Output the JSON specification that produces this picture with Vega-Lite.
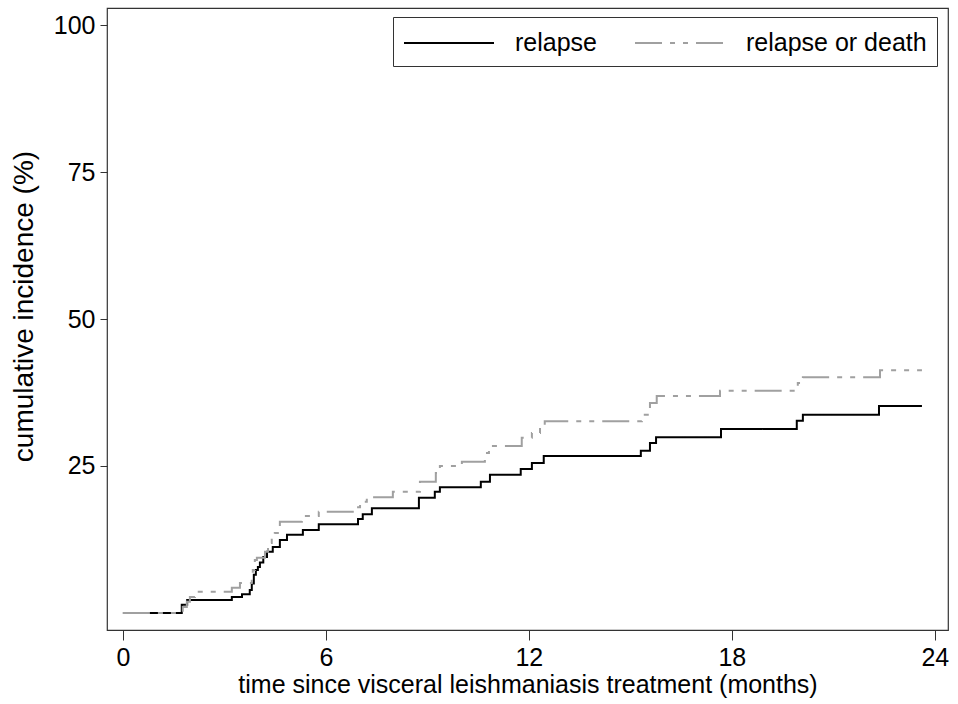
{
  "$schema": "https://vega.github.io/schema/vega-lite/v6.json",
  "autosize": {"type": "none"},
  "padding": {"left": 107, "top": 8, "right": 10, "bottom": 74},
  "width": 841,
  "height": 622,
  "background": "white",
  "config": {
    "view": {"stroke": "#333333", "strokeWidth": 1.2},
    "font": "Liberation Sans"
  },
  "data": {
    "values": [
      {"t": 0, "v": 0, "series": "relapse"},
      {"t": 1.74, "v": 1.4, "series": "relapse"},
      {"t": 1.9, "v": 2.2, "series": "relapse"},
      {"t": 3.22, "v": 2.7, "series": "relapse"},
      {"t": 3.52, "v": 3.2, "series": "relapse"},
      {"t": 3.75, "v": 3.9, "series": "relapse"},
      {"t": 3.81, "v": 5.0, "series": "relapse"},
      {"t": 3.87, "v": 6.5, "series": "relapse"},
      {"t": 3.93, "v": 7.3, "series": "relapse"},
      {"t": 3.99, "v": 7.8, "series": "relapse"},
      {"t": 4.05, "v": 8.6, "series": "relapse"},
      {"t": 4.15, "v": 9.5, "series": "relapse"},
      {"t": 4.26, "v": 10.4, "series": "relapse"},
      {"t": 4.43, "v": 11.2, "series": "relapse"},
      {"t": 4.64, "v": 12.4, "series": "relapse"},
      {"t": 4.85, "v": 13.3, "series": "relapse"},
      {"t": 5.32, "v": 14.1, "series": "relapse"},
      {"t": 5.79, "v": 15.1, "series": "relapse"},
      {"t": 6.95, "v": 16.0, "series": "relapse"},
      {"t": 7.09, "v": 16.8, "series": "relapse"},
      {"t": 7.36, "v": 17.8, "series": "relapse"},
      {"t": 8.75, "v": 19.6, "series": "relapse"},
      {"t": 9.22, "v": 20.6, "series": "relapse"},
      {"t": 9.37, "v": 21.4, "series": "relapse"},
      {"t": 10.58, "v": 22.3, "series": "relapse"},
      {"t": 10.85, "v": 23.5, "series": "relapse"},
      {"t": 11.76, "v": 24.5, "series": "relapse"},
      {"t": 12.09, "v": 25.5, "series": "relapse"},
      {"t": 12.44, "v": 26.7, "series": "relapse"},
      {"t": 15.31, "v": 27.6, "series": "relapse"},
      {"t": 15.58, "v": 28.9, "series": "relapse"},
      {"t": 15.76, "v": 29.9, "series": "relapse"},
      {"t": 17.68, "v": 31.3, "series": "relapse"},
      {"t": 19.92, "v": 32.7, "series": "relapse"},
      {"t": 20.1, "v": 33.7, "series": "relapse"},
      {"t": 22.35, "v": 35.2, "series": "relapse"},
      {"t": 23.62, "v": 35.2, "series": "relapse"},
      {"t": 0, "v": 0, "series": "relapse or death"},
      {"t": 1.77, "v": 1.0, "series": "relapse or death"},
      {"t": 1.89, "v": 1.9, "series": "relapse or death"},
      {"t": 1.98, "v": 2.7, "series": "relapse or death"},
      {"t": 2.13, "v": 3.6, "series": "relapse or death"},
      {"t": 3.22, "v": 4.3, "series": "relapse or death"},
      {"t": 3.46, "v": 5.1, "series": "relapse or death"},
      {"t": 3.81, "v": 6.0, "series": "relapse or death"},
      {"t": 3.84, "v": 7.3, "series": "relapse or death"},
      {"t": 3.9, "v": 9.0, "series": "relapse or death"},
      {"t": 3.96, "v": 9.4, "series": "relapse or death"},
      {"t": 4.2, "v": 10.4, "series": "relapse or death"},
      {"t": 4.29, "v": 11.9, "series": "relapse or death"},
      {"t": 4.4, "v": 13.3, "series": "relapse or death"},
      {"t": 4.49, "v": 13.6, "series": "relapse or death"},
      {"t": 4.58, "v": 14.6, "series": "relapse or death"},
      {"t": 4.64, "v": 15.5, "series": "relapse or death"},
      {"t": 5.29, "v": 16.5, "series": "relapse or death"},
      {"t": 5.79, "v": 17.2, "series": "relapse or death"},
      {"t": 6.86, "v": 18.0, "series": "relapse or death"},
      {"t": 7.01, "v": 18.9, "series": "relapse or death"},
      {"t": 7.21, "v": 19.7, "series": "relapse or death"},
      {"t": 7.98, "v": 20.6, "series": "relapse or death"},
      {"t": 8.78, "v": 22.3, "series": "relapse or death"},
      {"t": 9.25, "v": 23.8, "series": "relapse or death"},
      {"t": 9.37, "v": 25.0, "series": "relapse or death"},
      {"t": 10.02, "v": 25.7, "series": "relapse or death"},
      {"t": 10.7, "v": 27.2, "series": "relapse or death"},
      {"t": 10.82, "v": 28.4, "series": "relapse or death"},
      {"t": 11.79, "v": 29.8, "series": "relapse or death"},
      {"t": 12.09, "v": 30.6, "series": "relapse or death"},
      {"t": 12.33, "v": 31.6, "series": "relapse or death"},
      {"t": 12.47, "v": 32.6, "series": "relapse or death"},
      {"t": 15.34, "v": 33.7, "series": "relapse or death"},
      {"t": 15.58, "v": 35.7, "series": "relapse or death"},
      {"t": 15.78, "v": 36.9, "series": "relapse or death"},
      {"t": 17.65, "v": 37.8, "series": "relapse or death"},
      {"t": 19.95, "v": 39.1, "series": "relapse or death"},
      {"t": 20.1, "v": 40.1, "series": "relapse or death"},
      {"t": 22.38, "v": 41.3, "series": "relapse or death"},
      {"t": 23.62, "v": 41.3, "series": "relapse or death"}
    ]
  },
  "mark": {"type": "line", "interpolate": "step-after", "strokeWidth": 2, "clip": true},
  "encoding": {
    "x": {
      "field": "t",
      "type": "quantitative",
      "scale": {"domain": [-0.47, 24.39], "nice": false, "zero": false},
      "axis": {
        "values": [0, 6, 12, 18, 24],
        "title": "time since visceral leishmaniasis treatment (months)",
        "grid": false,
        "domain": false,
        "tickColor": "#333333",
        "tickSize": 10,
        "labelFontSize": 25,
        "labelFont": "Liberation Sans",
        "labelColor": "black",
        "labelPadding": 5,
        "labelFlush": false,
        "titleFontSize": 25,
        "titleFont": "Liberation Sans",
        "titleFontWeight": "normal",
        "titleColor": "black",
        "titlePadding": 2
      }
    },
    "y": {
      "field": "v",
      "type": "quantitative",
      "scale": {"domain": [-2.9, 102.9], "nice": false, "zero": false},
      "axis": {
        "values": [25, 50, 75, 100],
        "title": "cumulative incidence (%)",
        "grid": false,
        "domain": false,
        "tickColor": "#333333",
        "tickSize": 7,
        "labelFontSize": 25,
        "labelFont": "Liberation Sans",
        "labelColor": "black",
        "labelPadding": 5,
        "labelFlush": false,
        "titleFontSize": 28,
        "titleFont": "Liberation Sans",
        "titleFontWeight": "normal",
        "titleColor": "black",
        "titlePadding": 15,
        "titleY": 298
      }
    },
    "color": {
      "field": "series",
      "type": "nominal",
      "scale": {"domain": ["relapse", "relapse or death"], "range": ["black", "#a0a0a0"]},
      "legend": {
        "title": null,
        "orient": "none",
        "legendX": 286,
        "legendY": 9,
        "direction": "horizontal",
        "symbolType": "M-3,0H3",
        "symbolSize": 900,
        "symbolStrokeWidth": 2,
        "symbolOffset": 30,
        "labelFontSize": 25,
        "labelFont": "Liberation Sans",
        "labelColor": "black",
        "labelOffset": 50,
        "labelLimit": 400,
        "columnPadding": 34,
        "padding": 10,
        "strokeColor": "#333333",
        "fillColor": "white"
      }
    },
    "strokeDash": {
      "field": "series",
      "type": "nominal",
      "scale": {"domain": ["relapse", "relapse or death"], "range": [[1, 0], [27, 8, 5, 8, 5, 8]]},
      "legend": {
        "title": null,
        "orient": "none",
        "legendX": 286,
        "legendY": 9,
        "direction": "horizontal",
        "symbolType": "M-3,0H3",
        "symbolSize": 900,
        "symbolStrokeWidth": 2,
        "symbolOffset": 30,
        "labelFontSize": 25,
        "labelFont": "Liberation Sans",
        "labelColor": "black",
        "labelOffset": 50,
        "labelLimit": 400,
        "columnPadding": 34,
        "padding": 10,
        "strokeColor": "#333333",
        "fillColor": "white"
      }
    }
  }
}
